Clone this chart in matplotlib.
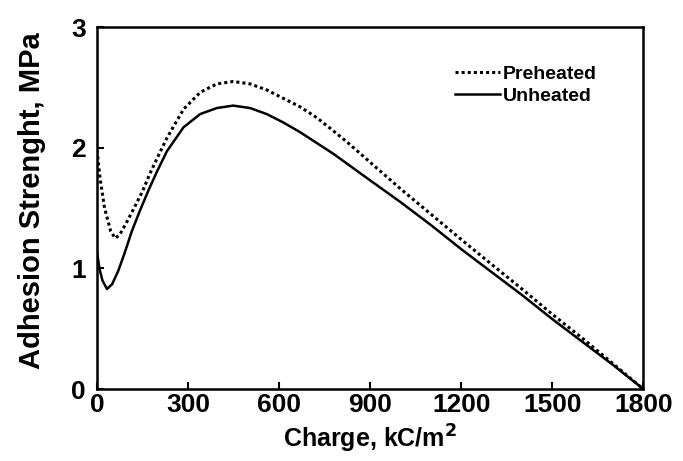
import matplotlib
matplotlib.use("Agg")
import matplotlib.pyplot as plt

charge_pre = [0, 10, 25, 45, 60, 75, 95, 120, 150, 175, 205, 230, 285, 340, 395, 449,
              504, 559, 614, 669, 724, 779, 823, 900, 1000, 1100, 1200, 1263, 1400,
              1500, 1600, 1700, 1800]
strength_pre = [1.98, 1.75, 1.50, 1.31, 1.25, 1.28, 1.37, 1.49, 1.64, 1.79, 1.95, 2.08,
                2.32, 2.46, 2.53, 2.55, 2.53, 2.48, 2.41, 2.34, 2.25, 2.14, 2.05, 1.88,
                1.66, 1.45, 1.24, 1.11, 0.83, 0.62, 0.42, 0.21, 0.0]

charge_unh = [0, 8, 18, 33, 50, 70, 90, 115, 140, 170, 197, 230, 285, 340, 395, 449,
              504, 559, 614, 669, 724, 779, 834, 900, 1000, 1100, 1200, 1263, 1400,
              1500, 1600, 1700, 1800]
strength_unh = [1.14, 1.00, 0.90, 0.83, 0.87, 0.98, 1.12, 1.31, 1.47, 1.65, 1.80, 1.97,
                2.17, 2.28, 2.33, 2.35, 2.33, 2.28, 2.21, 2.13, 2.04, 1.95, 1.85, 1.73,
                1.55, 1.36, 1.16, 1.04, 0.78, 0.58, 0.39, 0.20, 0.0]

x_ticks = [0, 300, 600, 900, 1200, 1500, 1800]
y_ticks = [0, 1, 2, 3]

plt.rcParams['font.family'] = ['Liberation Sans', 'DejaVu Sans']
plt.rcParams['font.weight'] = 'bold'

fig = plt.figure(figsize=(6.83, 4.61), dpi=100)
ax = fig.add_axes([0.142, 0.156, 0.800, 0.785])

ax.plot(charge_pre, strength_pre, color='black', linestyle=(0, (1, 1)), lw=2.2, label='Preheated')
ax.plot(charge_unh, strength_unh, color='black', linestyle='-', lw=1.8, label='Unheated')

ax.set_xlim(0, 1800)
ax.set_ylim(0, 3)
ax.set_xticks(x_ticks)
ax.set_yticks(y_ticks)
ax.tick_params(direction='in', length=5, width=1.5, labelsize=19)
ax.tick_params(axis='x', pad=3)
ax.tick_params(axis='y', pad=8)
for lab in ax.get_xticklabels() + ax.get_yticklabels():
    lab.set_fontweight('bold')
for s in ax.spines.values():
    s.set_linewidth(1.8)

ax.set_xlabel('Charge, kC/m$^{\\mathbf{2}}$', fontsize=18, fontweight='bold', labelpad=4)
ax.set_ylabel('Adhesion Strenght, MPa', fontsize=21, fontweight='bold')
ax.yaxis.set_label_coords(-0.094, 0.52)

leg = ax.legend(loc='upper left', bbox_to_anchor=(0.655, 0.895), frameon=False,
                handlelength=2.3, handletextpad=0.15, labelspacing=0.25,
                borderpad=0, borderaxespad=0,
                prop={'size': 14, 'weight': 'bold'})

fig.savefig('out.png', dpi=100)
